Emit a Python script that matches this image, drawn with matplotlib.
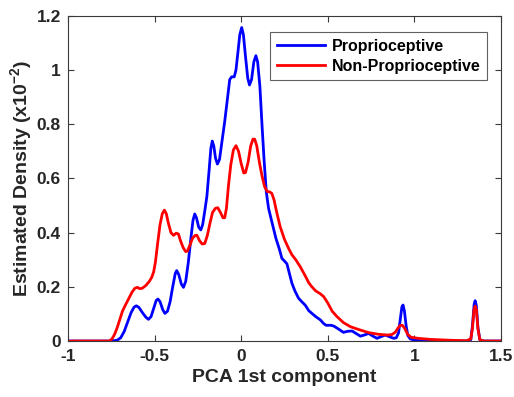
import numpy as np
import matplotlib.pyplot as plt

# kernel density estimates of the first PCA component (values in units of 1e-2)
prop_x = [-1.0, -0.75, -0.715, -0.695, -0.675, -0.655, -0.635, -0.618, -0.605, -0.59,
          -0.57, -0.55, -0.535, -0.52, -0.505, -0.49, -0.48, -0.468, -0.452, -0.44,
          -0.425, -0.41, -0.395, -0.38, -0.372, -0.36, -0.345, -0.333, -0.32, -0.305,
          -0.29, -0.278, -0.268, -0.258, -0.245, -0.233, -0.222, -0.21, -0.198, -0.185,
          -0.175, -0.167, -0.158, -0.148, -0.137, -0.125, -0.11, -0.095, -0.08, -0.066,
          -0.055, -0.04, -0.03, -0.018, -0.008, 0.003, 0.013, 0.025, 0.038, 0.048,
          0.06, 0.073, 0.085, 0.095, 0.108, 0.12, 0.132, 0.145, 0.158, 0.177,
          0.2, 0.22, 0.235, 0.25, 0.264, 0.28, 0.293, 0.31, 0.331, 0.35,
          0.37, 0.39, 0.408, 0.43, 0.457, 0.475, 0.49, 0.52, 0.535, 0.56,
          0.59, 0.615, 0.64, 0.665, 0.688, 0.71, 0.736, 0.76, 0.784, 0.81,
          0.832, 0.855, 0.88, 0.895, 0.908, 0.918, 0.927, 0.934, 0.942, 0.952,
          0.962, 0.975, 0.99, 1.05, 1.2, 1.3, 1.325, 1.335, 1.344, 1.35,
          1.357, 1.366, 1.377, 1.4, 1.5]
prop_y = [0.0, 0.0, 0.003, 0.012, 0.035, 0.07, 0.105, 0.125, 0.13, 0.124,
          0.105, 0.088, 0.08, 0.09, 0.12, 0.15, 0.155, 0.145, 0.115, 0.102,
          0.11, 0.145, 0.2, 0.25, 0.26, 0.245, 0.21, 0.198, 0.22, 0.29,
          0.38, 0.445, 0.469, 0.455, 0.42, 0.41, 0.43, 0.48, 0.533, 0.63,
          0.71, 0.738, 0.72, 0.675, 0.653, 0.67, 0.74, 0.81, 0.89, 0.965,
          0.975, 0.975, 1.0, 1.07, 1.13, 1.157, 1.13, 1.05, 0.97, 0.945,
          0.965, 1.03, 1.053, 1.03, 0.94, 0.8, 0.67, 0.55, 0.49, 0.44,
          0.38, 0.34, 0.305, 0.295, 0.285, 0.245, 0.213, 0.185, 0.158, 0.145,
          0.132, 0.112, 0.102, 0.09, 0.078, 0.065, 0.058, 0.058, 0.055, 0.045,
          0.032, 0.036, 0.037, 0.027, 0.018, 0.022, 0.028, 0.018, 0.01, 0.017,
          0.022, 0.016, 0.01, 0.012, 0.03, 0.08, 0.125, 0.133, 0.11, 0.055,
          0.02, 0.008, 0.005, 0.003, 0.001, 0.0, 0.005, 0.06, 0.135, 0.149,
          0.13, 0.05, 0.005, 0.0, 0.0]

nonprop_x = [-1.0, -0.76, -0.745, -0.73, -0.715, -0.7, -0.685, -0.67, -0.65, -0.63,
             -0.613, -0.598, -0.585, -0.57, -0.55, -0.53, -0.516, -0.505, -0.495, -0.482,
             -0.468, -0.455, -0.443, -0.432, -0.42, -0.405, -0.39, -0.375, -0.362, -0.35,
             -0.335, -0.32, -0.31, -0.295, -0.28, -0.265, -0.255, -0.24, -0.225, -0.21,
             -0.195, -0.18, -0.165, -0.148, -0.135, -0.12, -0.105, -0.095, -0.085, -0.073,
             -0.06, -0.045, -0.03, -0.015, 0.0, 0.015, 0.025, 0.04, 0.055, 0.068,
             0.078, 0.09, 0.105, 0.12, 0.135, 0.15, 0.165, 0.177, 0.19, 0.205,
             0.225, 0.25, 0.275, 0.293, 0.315, 0.341, 0.37, 0.39, 0.408, 0.43,
             0.455, 0.476, 0.5, 0.525, 0.553, 0.59, 0.63, 0.68, 0.736, 0.79,
             0.842, 0.87, 0.89, 0.905, 0.918, 0.93, 0.945, 0.96, 0.98, 1.02,
             1.092, 1.2, 1.3, 1.325, 1.335, 1.343, 1.35, 1.357, 1.366, 1.377,
             1.4, 1.5]
nonprop_y = [0.0, 0.0, 0.008, 0.025, 0.05, 0.08, 0.11, 0.13, 0.155, 0.18,
             0.195, 0.198, 0.193, 0.195, 0.205, 0.22, 0.235, 0.255, 0.29, 0.36,
             0.43, 0.47, 0.483, 0.47, 0.435, 0.4, 0.39, 0.398, 0.395, 0.37,
             0.345, 0.33, 0.332, 0.355, 0.38, 0.39, 0.39, 0.37, 0.358, 0.36,
             0.39, 0.435, 0.475, 0.49, 0.492, 0.475, 0.455, 0.455, 0.49, 0.575,
             0.65, 0.705, 0.721, 0.7, 0.655, 0.62, 0.622, 0.66, 0.72, 0.745,
             0.745, 0.72, 0.66, 0.61, 0.57, 0.552, 0.55, 0.545, 0.52, 0.475,
             0.422, 0.375, 0.34, 0.318, 0.3, 0.274, 0.24, 0.215, 0.2, 0.185,
             0.175, 0.164, 0.14, 0.11, 0.09, 0.068, 0.053, 0.042, 0.031, 0.025,
             0.022, 0.024, 0.033, 0.048, 0.058, 0.058, 0.045, 0.025, 0.014, 0.01,
             0.006, 0.003, 0.001, 0.008, 0.05, 0.115, 0.129, 0.115, 0.045, 0.005,
             0.0, 0.0]

xticks = [-1, -0.5, 0, 0.5, 1, 1.5]
xticklabels = ['-1', '-0.5', '0', '0.5', '1', '1.5']
yticks = [0, 0.2, 0.4, 0.6, 0.8, 1.0, 1.2]
yticklabels = ['0', '0.2', '0.4', '0.6', '0.8', '1', '1.2']

plt.rcParams['font.family'] = ['Liberation Sans', 'DejaVu Sans']
plt.rcParams['font.weight'] = 'bold'
plt.rcParams['mathtext.fontset'] = 'custom'
plt.rcParams['mathtext.rm'] = 'Liberation Sans:bold'
plt.rcParams['mathtext.bf'] = 'Liberation Sans:bold'

axcol = '#3a3a3a'
txtcol = '#262626'

fig = plt.figure(figsize=(5.14, 3.97), dpi=100)
ax = fig.add_axes([0.132, 0.141, 0.843, 0.819])

ax.plot(prop_x, prop_y, color='#0000ff', linewidth=2, label='Proprioceptive')
ax.plot(nonprop_x, nonprop_y, color='#ff0000', linewidth=2, label='Non-Proprioceptive')

ax.set_xlim(-1, 1.5)
ax.set_ylim(0, 1.2)
ax.set_xticks(xticks)
ax.set_xticklabels(xticklabels)
ax.set_yticks(yticks)
ax.set_yticklabels(yticklabels)
ax.tick_params(direction='in', length=4, width=0.8, top=True, right=True,
               colors=axcol, labelcolor=txtcol, labelsize=12.5)
ax.tick_params(axis='x', pad=6)
ax.tick_params(axis='y', pad=5)
for s in ax.spines.values():
    s.set_color(axcol)
    s.set_linewidth(0.8)

ax.set_xlabel('PCA 1st component', fontsize=14, fontweight='bold', color=txtcol, labelpad=3)
ax.set_ylabel(r'Estimated Density (x10$^{-2}$)', fontsize=14, fontweight='bold',
              color=txtcol, labelpad=1)

leg = ax.legend(loc='upper right', bbox_to_anchor=(0.967, 0.95), fontsize=11.5,
                frameon=True, fancybox=False, handlelength=3.0, handletextpad=0.45,
                borderpad=0.4, labelspacing=0.32, borderaxespad=0)
leg.get_frame().set_edgecolor(axcol)
leg.get_frame().set_linewidth(0.8)
for t in leg.get_texts():
    t.set_fontweight('bold')

fig.savefig('out.png', dpi=100)
